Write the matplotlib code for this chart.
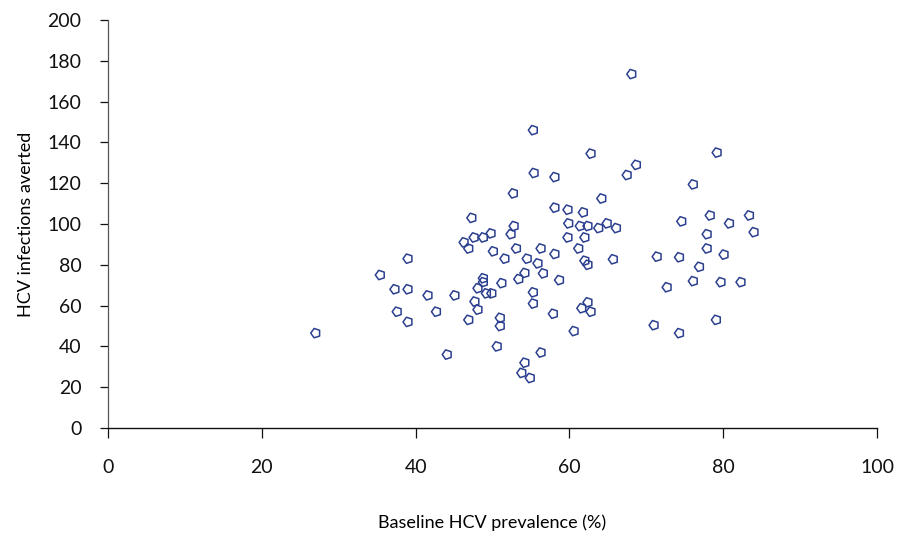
import matplotlib
matplotlib.use("Agg")
import matplotlib.pyplot as plt
from matplotlib.markers import MarkerStyle

prevalence = [27.0, 35.4, 37.3, 37.6, 39.0, 39.0, 39.0, 41.6, 42.7, 44.1,
              45.1, 46.3, 46.9, 47.3, 47.6, 48.8, 49.8, 50.1, 48.8, 48.8,
              48.1, 49.2, 49.9, 47.7, 48.1, 46.9, 51.0, 51.0, 50.6, 51.2,
              51.6, 52.4, 52.8, 52.7, 53.1, 54.5, 54.2, 53.4, 55.3, 55.3,
              56.3, 55.9, 56.6, 57.9, 56.3, 54.2, 53.8, 54.9, 55.3, 55.4,
              58.1, 58.1, 58.1, 58.7, 59.8, 61.8, 59.9, 61.4, 62.4, 63.8,
              64.9, 66.1, 59.8, 62.0, 61.2, 62.0, 62.4, 65.7, 61.6, 62.4,
              62.8, 60.6, 64.2, 62.8, 67.5, 68.7, 68.1, 71.4, 72.7, 71.0,
              74.3, 74.6, 76.1, 79.2, 78.3, 80.8, 83.4, 84.0, 77.9, 77.9,
              80.1, 76.9, 76.1, 79.7, 82.3, 79.1, 74.3]
averted = [46.5, 75, 68, 57, 83, 68, 52, 65, 57, 36,
           65, 91, 88, 103, 93.4, 93.4, 95.4, 86.6, 73.4, 71.5,
           68.5, 66, 66, 62, 58, 53, 54, 50, 40, 71,
           83, 95, 99, 115, 88, 83, 76, 73, 66.5, 61,
           88, 80.7, 75.8, 56, 37, 32, 27, 24.5, 146, 125,
           123, 108, 85.3, 72.5, 107, 105.7, 100.3, 99, 99, 98,
           100.3, 98, 93.4, 93.4, 88, 82, 80, 82.7, 58.7, 61.6,
           57, 47.5, 112.5, 134.5, 124, 129, 173.5, 84, 69, 50.4,
           83.7, 101.3, 119.4, 135, 104.2, 100.3, 104.2, 96, 95, 88,
           85, 79, 72, 71.5, 71.5, 53, 46.5]

x_ticks = [0, 20, 40, 60, 80, 100]
y_ticks = [0, 20, 40, 60, 80, 100, 120, 140, 160, 180, 200]

plt.rcParams['font.family'] = ['Lato', 'DejaVu Sans']

fig = plt.figure(figsize=(9.05, 5.43), dpi=100)
ax = fig.add_axes([108/905, 1 - 428/543, (877-108)/905, (428-20)/543])

marker = MarkerStyle('p')
marker._transform = marker.get_transform().rotate_deg(90)
ax.scatter(prevalence, averted, marker=marker, s=50, facecolors='none',
           edgecolors='#2B3F8F', linewidths=1.1, zorder=3, clip_on=False)

ax.set_xlim(0, 100)
ax.set_ylim(0, 200)
ax.set_xticks(x_ticks)
ax.set_yticks(y_ticks)
ax.set_xticklabels([str(v) for v in x_ticks])
ax.set_yticklabels([str(v) for v in y_ticks])

for s in ['top', 'right']:
    ax.spines[s].set_visible(False)
ax.spines['left'].set_color('#555555')
ax.spines['bottom'].set_color('#111111')
ax.spines['left'].set_linewidth(0.9)
ax.spines['bottom'].set_linewidth(1.0)

ax.tick_params(axis='y', direction='out', length=6, width=0.9, pad=13,
               labelsize=14, colors='#111111')
ax.tick_params(axis='x', direction='out', length=7, width=0.9, pad=15,
               labelsize=14, colors='#111111')

ax.set_xlabel('Baseline HCV prevalence (%)', fontsize=13, labelpad=28)
ax.set_ylabel('HCV infections averted', fontsize=13, labelpad=10)

fig.savefig('out.png', dpi=100)
